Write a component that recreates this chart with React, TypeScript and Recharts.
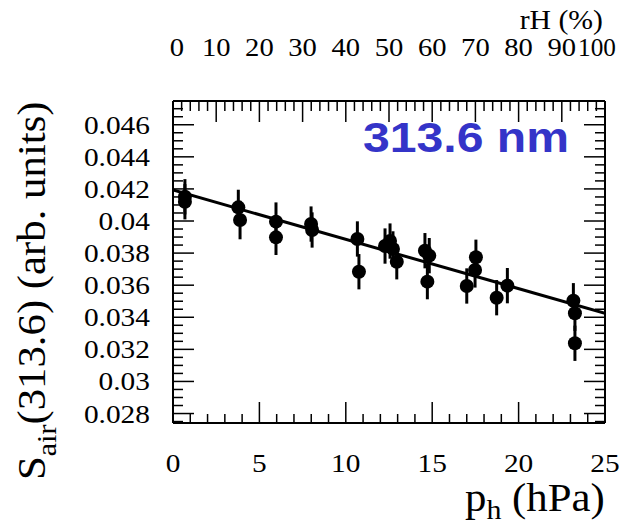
import React from 'react';
import { ComposedChart, XAxis, YAxis, Scatter, Line, ErrorBar, Label } from 'recharts';

// ---- data ----
const pressure = [0.69, 0.69, 3.78, 3.88, 5.96, 5.96, 7.99, 8.05, 10.67, 10.76, 12.27, 12.56, 12.73, 12.95, 14.58, 14.83, 14.72, 17.53, 17.48, 17.0, 18.73, 19.35, 23.17, 23.26, 23.26];
const sAir = [0.04151, 0.0412, 0.04085, 0.04006, 0.03996, 0.03898, 0.03981, 0.03944, 0.03888, 0.03684, 0.03844, 0.03875, 0.03826, 0.03746, 0.03815, 0.03784, 0.03622, 0.03774, 0.03695, 0.03595, 0.03522, 0.03597, 0.03503, 0.03425, 0.03238];
const sErr = [0.0011, 0.0011, 0.0011, 0.0012, 0.0012, 0.0011, 0.0011, 0.0011, 0.0011, 0.0011, 0.0011, 0.0011, 0.0011, 0.0011, 0.0011, 0.0011, 0.0011, 0.0011, 0.0011, 0.0011, 0.0011, 0.0011, 0.0011, 0.0011, 0.0011];
const fitX = [0, 25];
const fitY = [0.04193, 0.03425];

// ---- axes ----
const pressureMajor = [0, 5, 10, 15, 20, 25];
const pressureTicks = Array.from({ length: 26 }, (_, i) => i);
// top axis: relative humidity, 100 % at 25 hPa
const RH_PER_HPA = 100 / 25;
const rhMajor = [0, 10, 20, 30, 40, 50, 60, 70, 80, 90, 100];
const rhTicks = Array.from({ length: 51 }, (_, i) => i * 2);
const rhTicksInHPa = rhTicks.map((r) => r / RH_PER_HPA);
const sMajor = [0.028, 0.03, 0.032, 0.034, 0.036, 0.038, 0.04, 0.042, 0.044, 0.046];
const sTicks = Array.from({ length: 40 }, (_, i) => Number((0.0275 + i * 0.0005).toFixed(4)));
const sDomain = [0.02741, 0.04748];

const points = pressure.map((x, i) => ({ x, y: sAir[i], err: sErr[i] }));
const fitData = fitX.map((x, i) => ({ x, y: fitY[i] }));

const SERIF = '"Liberation Serif", "Times New Roman", serif';
const SANS = '"Liberation Sans", Arial, sans-serif';
const MAJOR = 21;
const MINOR = 10;
const TICK_FS = 26;
const SX = 1.13;

const inList = (list: number[], v: number) => list.some((m) => Math.abs(m - v) < 1e-7);

function BottomTick(props: any) {
  const { x, y, payload } = props;
  const v = payload.value;
  const major = inList(pressureMajor, v);
  return (
    <g>
      <line x1={x} x2={x} y1={y} y2={y - (major ? MAJOR : 9)} stroke="#000" strokeWidth={1.5} />
      {major && (
        <text transform={`translate(${x},${y + 49}) scale(${SX},1)`} textAnchor="middle" fontFamily={SERIF} fontSize={TICK_FS} fill="#000">
          {String(v)}
        </text>
      )}
    </g>
  );
}

function TopTick(props: any) {
  const { x, y, payload } = props;
  const rh = Math.round(payload.value * RH_PER_HPA * 1000) / 1000;
  const major = inList(rhMajor, rh);
  const nudge = rh === 0 ? 4 : rh === 100 ? -8 : 0;
  const sx = rh === 100 ? 0.97 : 1.1;
  return (
    <g>
      <line x1={x} x2={x} y1={y} y2={y + (major ? MAJOR : MINOR)} stroke="#000" strokeWidth={1.5} />
      {major && (
        <text transform={`translate(${x + nudge},${y - 45}) scale(${sx},1)`} textAnchor="middle" fontFamily={SERIF} fontSize={TICK_FS} fill="#000">
          {String(rh)}
        </text>
      )}
    </g>
  );
}

function LeftTick(props: any) {
  const { x, y, payload } = props;
  const v = payload.value;
  const major = inList(sMajor, v);
  return (
    <g>
      <line x1={x} x2={x + (major ? MAJOR : MINOR)} y1={y} y2={y} stroke="#000" strokeWidth={1.5} />
      {major && (
        <text transform={`translate(${x - 23},${y + 9}) scale(${SX},1)`} textAnchor="end" fontFamily={SERIF} fontSize={TICK_FS} fill="#000">
          {Number(v.toFixed(3)).toString()}
        </text>
      )}
    </g>
  );
}

function RightTick(props: any) {
  const { x, y, payload } = props;
  const v = payload.value;
  const major = inList(sMajor, v);
  return <line x1={x} x2={x - (major ? MAJOR : MINOR)} y1={y} y2={y} stroke="#000" strokeWidth={1.5} />;
}

function TopTitles(props: any) {
  const vb = props.viewBox || { x: 173, y: 0, width: 432, height: 101 };
  return (
    <g>
      <text transform={`translate(${vb.x + vb.width - 2},29) scale(1.1,1)`} textAnchor="end" fontFamily={SERIF} fontSize={27} fill="#000">
        rH (%)
      </text>
      <text transform={`translate(${vb.x + 190},${vb.y + vb.height + 51}) scale(1.12,1)`} fontFamily={SANS} fontWeight="bold" fontSize={43} fill="#3434c8">
        313.6 nm
      </text>
    </g>
  );
}

function XTitle(props: any) {
  const vb = props.viewBox || { x: 173, y: 423, width: 432, height: 103 };
  return (
    <text transform={`translate(${vb.x + 292},${vb.y + 88}) scale(1.07,1)`} fontFamily={SERIF} fontSize={40} fill="#000">
      p<tspan fontSize={28} dy={8}>h</tspan>
      <tspan dy={-8}> (hPa)</tspan>
    </text>
  );
}

function YTitle(props: any) {
  const vb = props.viewBox || { x: 0, y: 101, width: 173, height: 322 };
  return (
    <text transform={`translate(${vb.x + 45},${vb.y + vb.height + 57}) rotate(-90) scale(1.07,1)`} fontFamily={SERIF} fontSize={40} fill="#000">
      S<tspan fontSize={28} dy={11}>air</tspan>
      <tspan dy={-11}>(313.6) (arb. units)</tspan>
    </text>
  );
}

const Dot = (props: any) => <circle cx={props.cx} cy={props.cy} r={7} fill="#000" />;

export default function App() {
  return (
    <div style={{ position: 'absolute', left: 0, top: 0, background: '#fff' }}>
      <ComposedChart width={630} height={526} margin={{ top: 0, right: 0, bottom: 0, left: 0 }}>
        <XAxis
          xAxisId="b"
          orientation="bottom"
          type="number"
          dataKey="x"
          domain={[0, 25]}
          ticks={pressureTicks}
          interval={0}
          height={103}
          tickLine={false}
          tickSize={0}
          tickMargin={0}
          axisLine={{ stroke: '#000', strokeWidth: 2 }}
          tick={(p: any) => <BottomTick {...p} />}
          allowDataOverflow
        >
          <Label content={(p: any) => <XTitle {...p} />} />
        </XAxis>
        <XAxis
          xAxisId="t"
          orientation="top"
          type="number"
          dataKey="x"
          domain={[0, 25]}
          ticks={rhTicksInHPa}
          interval={0}
          height={101}
          tickLine={false}
          tickSize={0}
          tickMargin={0}
          axisLine={{ stroke: '#000', strokeWidth: 2 }}
          tick={(p: any) => <TopTick {...p} />}
          allowDataOverflow
        >
          <Label content={(p: any) => <TopTitles {...p} />} />
        </XAxis>
        <YAxis
          yAxisId="l"
          orientation="left"
          type="number"
          dataKey="y"
          domain={sDomain}
          ticks={sTicks}
          interval={0}
          width={173}
          tickLine={false}
          tickSize={0}
          tickMargin={0}
          axisLine={{ stroke: '#000', strokeWidth: 2 }}
          tick={(p: any) => <LeftTick {...p} />}
          allowDataOverflow
        >
          <Label content={(p: any) => <YTitle {...p} />} />
        </YAxis>
        <YAxis
          yAxisId="r"
          orientation="right"
          type="number"
          dataKey="y"
          domain={sDomain}
          ticks={sTicks}
          interval={0}
          width={25}
          tickLine={false}
          tickSize={0}
          tickMargin={0}
          axisLine={{ stroke: '#000', strokeWidth: 2 }}
          tick={(p: any) => <RightTick {...p} />}
          allowDataOverflow
        />
        <Scatter xAxisId="b" yAxisId="l" data={points} dataKey="y" fill="#000" shape={Dot} isAnimationActive={false}>
          <ErrorBar dataKey="err" direction="y" width={0} stroke="#000" strokeWidth={3} isAnimationActive={false} />
        </Scatter>
        <Line xAxisId="t" yAxisId="r" data={fitData} dataKey="y" type="linear" stroke="#000" strokeWidth={3} dot={false} activeDot={false} isAnimationActive={false} />
      </ComposedChart>
    </div>
  );
}
